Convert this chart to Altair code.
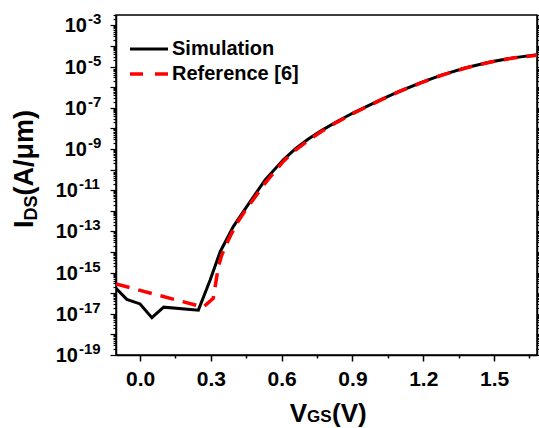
import altair as alt
import pandas as pd

# ---------------- data ----------------
sim_vgs = [-0.102, -0.056, 0.0, 0.05, 0.10, 0.247, 0.297, 0.339, 0.395, 0.452,
           0.50, 0.53, 0.607, 0.66, 0.713, 0.77, 0.833, 0.90, 0.961, 1.03,
           1.10, 1.19, 1.271, 1.38, 1.483, 1.58, 1.69]
sim_ids = [1.74e-16, 5.0e-17, 3.0e-17, 6.5e-18, 2.1e-17, 1.5e-17, 4.4e-16, 1.0e-14,
           1.7e-13, 1.6e-12, 1.0e-11, 3.16e-11, 2.95e-10, 1.05e-09, 3.02e-09, 7.94e-09,
           2.09e-08, 5.37e-08, 1.17e-07, 2.75e-07, 6.31e-07, 1.66e-06, 3.63e-06,
           8.71e-06, 1.66e-05, 2.63e-05, 3.80e-05]

ref_vgs = [-0.102, 0.268, 0.31, 0.332, 0.346, 0.374, 0.41, 0.452, 0.53, 0.607,
           0.66, 0.713, 0.77, 0.833, 0.90, 0.961, 1.03, 1.10, 1.19, 1.271, 1.38,
           1.483, 1.58, 1.69]
ref_ids = [2.8e-16, 2.1e-17, 5.6e-17, 1.95e-15, 7.1e-15, 3.8e-14, 2.5e-13, 1.3e-12,
           2.2e-11, 2.5e-10, 9.1e-10, 2.6e-09, 7.2e-09, 1.95e-08, 5.1e-08, 1.12e-07,
           2.7e-07, 6.2e-07, 1.62e-06, 3.55e-06, 8.5e-06, 1.62e-05, 2.57e-05, 3.63e-05]

x_major = [0.0, 0.3, 0.6, 0.9, 1.2, 1.5]
x_minor = [0.15, 0.45, 0.75, 1.05, 1.35, 1.65]
y_label_exps = [-3, -5, -7, -9, -11, -13, -15, -17, -19]
legend_names = ["Simulation", "Reference [6]"]

# ---------------- layout ----------------
FONT = "Liberation Sans"
W, H = 421, 340
PAD_L, PAD_T = 116, 15
PAD_R = 539 - PAD_L - W
PAD_B = 428 - PAD_T - H

Y_TOP = 10 ** -2.5
xscale = alt.Scale(domain=[-0.102, 1.682], nice=False, zero=False)
yscale = alt.Scale(type="log", domain=[1e-19, Y_TOP], nice=False)

y_ticks = sorted([10.0 ** k for k in range(-19, -2)] +
                 [m * 10.0 ** k for k in range(-19, -2) for m in range(2, 10)
                  if m * 10.0 ** k <= Y_TOP])
is_decade = "abs(log(datum.value)/LN10 - round(log(datum.value)/LN10)) < 0.01"
is_xmajor = "abs(datum.value/0.3 - round(datum.value/0.3)) < 0.01"

x_axis = alt.Axis(
    values=sorted(x_major + x_minor), title=None, grid=False,
    labelExpr=f"{is_xmajor} ? format(datum.value, '.1f') : ''",
    tickSize={"condition": {"test": is_xmajor, "value": 6}, "value": 3},
    labelFontSize=21, labelFontWeight="bold", labelFont=FONT, labelColor="black",
    labelPadding=7, labelFlush=False, labelOverlap=False,
    domainColor="black", domainWidth=1.5, tickColor="black", tickWidth=1.5,
)


def y_axis(orient):
    return alt.Axis(
        orient=orient, values=y_ticks, labels=False, title=None, grid=False,
        tickSize={"condition": {"test": is_decade, "value": 6}, "value": 3},
        domainColor="black", domainWidth=1.5, tickColor="black", tickWidth=1.2,
    )


sim_df = pd.DataFrame({"VGS": sim_vgs, "IDS": sim_ids, "series": legend_names[0]})
ref_df = pd.DataFrame({"VGS": ref_vgs, "IDS": ref_ids, "series": legend_names[1]})

sim = alt.Chart(sim_df).mark_line(color="black", strokeWidth=3, clip=True).encode(
    x=alt.X("VGS:Q", scale=xscale, axis=x_axis),
    y=alt.Y("IDS:Q", scale=yscale, axis=y_axis("left")),
)
ref = alt.Chart(ref_df).mark_line(color="#ff0000", strokeWidth=3.5,
                                  strokeDash=[14, 9], clip=True).encode(
    x=alt.X("VGS:Q", scale=xscale, axis=x_axis),
    y=alt.Y("IDS:Q", scale=yscale, axis=y_axis("right")),
)

# ---------------- y tick labels 10^n ----------------
lab = alt.Chart(pd.DataFrame({"exp": y_label_exps})).transform_calculate(
    val="pow(10, datum.exp)", sup="'-' + abs(datum.exp)")
ybase = alt.Y("val:Q", scale=yscale, axis=None)
ten_style = dict(text="10", align="right", baseline="alphabetic", dy=7,
                 fontSize=20, fontWeight="bold", font=FONT, color="black")
sup_style = dict(align="left", baseline="alphabetic", dy=-1,
                 fontSize=15, fontWeight="bold", font=FONT, color="black")
ten1 = lab.transform_filter("datum.exp > -10").mark_text(**ten_style).encode(
    x=alt.value(-29), y=ybase)
ten2 = lab.transform_filter("datum.exp <= -10").mark_text(**ten_style).encode(
    x=alt.value(-38), y=ybase)
sup1 = lab.transform_filter("datum.exp > -10").mark_text(**sup_style).encode(
    x=alt.value(-28), y=ybase, text="sup:N")
sup2 = lab.transform_filter("datum.exp <= -10").mark_text(**sup_style).encode(
    x=alt.value(-37), y=ybase, text="sup:N")

# ---------------- axis titles ----------------
one = pd.DataFrame({"k": [0]})
tstyle = dict(baseline="alphabetic", fontWeight="bold", font=FONT, color="black")
xt1 = alt.Chart(one).mark_text(text="V", align="right", fontSize=26, **tstyle).encode(
    x=alt.value(191), y=alt.value(407))
xt2 = alt.Chart(one).mark_text(text="GS", align="left", fontSize=17, **tstyle).encode(
    x=alt.value(191), y=alt.value(407))
xt3 = alt.Chart(one).mark_text(text="(V)", align="left", fontSize=26, **tstyle).encode(
    x=alt.value(216), y=alt.value(407))

yt1 = alt.Chart(one).mark_text(text="I", align="left", angle=270, fontSize=27, **tstyle).encode(
    x=alt.value(-83), y=alt.value(213))
yt2 = alt.Chart(one).mark_text(text="DS", align="left", angle=270, fontSize=18, **tstyle).encode(
    x=alt.value(-79), y=alt.value(205.5))
yt3 = alt.Chart(one).mark_text(text="(A/μm)", align="left", angle=270, fontSize=27, **tstyle).encode(
    x=alt.value(-83), y=alt.value(180.5))

# ---------------- legend ----------------
leg_sim = alt.Chart(pd.DataFrame({"name": [legend_names[0]]}))
leg_ref = alt.Chart(pd.DataFrame({"name": [legend_names[1]]}))
lg1 = leg_sim.mark_rule(color="black", strokeWidth=3).encode(
    x=alt.value(14), x2=alt.value(52), y=alt.value(34))
lg2 = leg_ref.mark_rule(color="#ff0000", strokeWidth=3.5, strokeDash=[13, 12]).encode(
    x=alt.value(14), x2=alt.value(52), y=alt.value(59))
lstyle = dict(align="left", baseline="middle", fontSize=20, fontWeight="bold",
              font=FONT, color="black")
lt1 = leg_sim.mark_text(**lstyle).encode(x=alt.value(56), y=alt.value(34), text="name:N")
lt2 = leg_ref.mark_text(**lstyle).encode(x=alt.value(56), y=alt.value(59), text="name:N")

chart = alt.layer(
    sim, ref, ten1, ten2, sup1, sup2, xt1, xt2, xt3, yt1, yt2, yt3, lg1, lg2, lt1, lt2
).resolve_axis(y="independent").properties(
    width=W, height=H,
    padding={"left": PAD_L, "top": PAD_T, "right": PAD_R, "bottom": PAD_B},
    autosize=alt.AutoSizeParams(type="none"),
    background="white",
).configure_view(stroke="black", strokeWidth=1.5)

chart.save("out.html", embed_options={"renderer": "svg", "actions": False})
